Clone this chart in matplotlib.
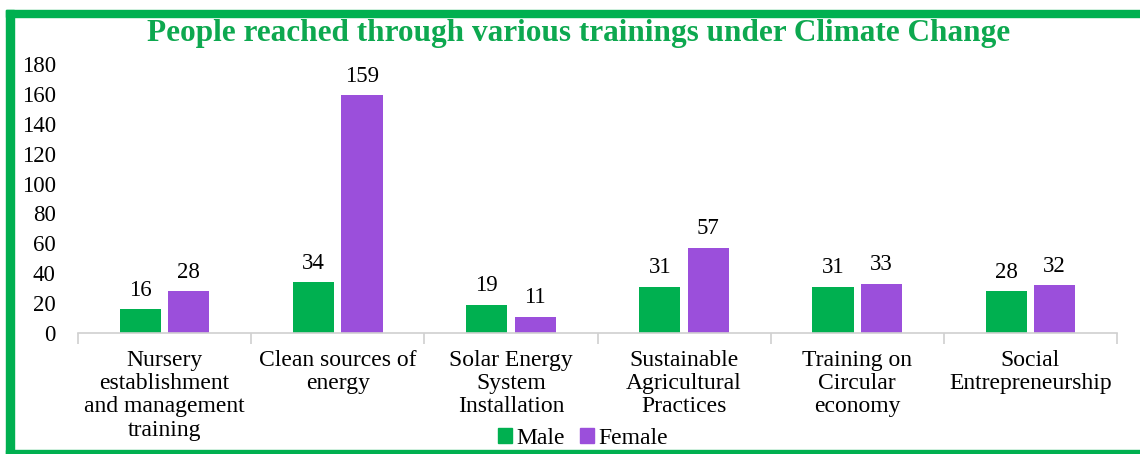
import matplotlib
matplotlib.use("Agg")
import matplotlib.pyplot as plt
import numpy as np
from matplotlib.patches import Rectangle, Patch

categories = ["Nursery\nestablishment\nand management\ntraining",
              "Clean sources of\nenergy",
              "Solar Energy\nSystem\nInstallation",
              "Sustainable\nAgricultural\nPractices",
              "Training on\nCircular\neconomy",
              "Social\nEntrepreneurship"]
male = [16, 34, 19, 31, 31, 28]
female = [28, 159, 11, 57, 33, 32]
yticks = [0, 20, 40, 60, 80, 100, 120, 140, 160, 180]

GREEN = "#00B050"
PURPLE = "#9B4FDB"
TITLE_GREEN = "#0DA84F"

plt.rcParams['font.family'] = ['Liberation Serif', 'DejaVu Serif']

fig = plt.figure(figsize=(11.4, 4.54), dpi=100)
ax = fig.add_axes([78/1140, 1-333/454, (1117-78)/1140, (333-64)/454])

x = np.arange(len(categories))
w = 0.237
off = 0.14
b1 = ax.bar(x - off, male, w, color=GREEN, label="Male")
b2 = ax.bar(x + off, female, w, color=PURPLE, label="Female")
for bars, vals in ((b1, male), (b2, female)):
    for r, v in zip(bars, vals):
        ax.annotate(str(v), (r.get_x() + r.get_width()/2, v), xytext=(0, 6),
                    textcoords="offset points", ha="center", va="bottom", fontsize=16.5)

ax.set_xlim(-0.5, len(categories) - 0.5)
ax.set_ylim(0, 180)
ax.set_yticks(yticks)
ax.set_yticklabels([str(t) for t in yticks], fontsize=16.5)
ax.tick_params(axis='y', length=0, pad=16)
ax.set_xticks(x)
ax.set_xticklabels(categories, fontsize=17, linespacing=1.15)
ax.tick_params(axis='x', length=0, pad=12)
ax.set_xticks(np.arange(-0.5, len(categories), 1.0), minor=True)
ax.tick_params(axis='x', which='minor', length=8, color="#D0D0D0", width=1.2)
for s in ("top", "right", "left"):
    ax.spines[s].set_visible(False)
ax.spines["bottom"].set_color("#D0D0D0")
ax.spines["bottom"].set_linewidth(1.2)

fig.text(579/1140, 1-33/454, "People reached through various trainings under Climate Change",
         ha="center", va="center", fontsize=22.5, fontweight="bold", color=TITLE_GREEN)

fig.legend(handles=[Patch(color=GREEN, label="Male"), Patch(color=PURPLE, label="Female")],
           loc="center", bbox_to_anchor=(583/1140, 1-438/454), ncol=2, frameon=False,
           fontsize=17, handlelength=0.6, handleheight=0.6, handletextpad=0.2,
           columnspacing=0.6)

# green frame
H = 454.0; W = 1140.0
fig.patches.append(Rectangle((6/W, 0), 8/W, 1 - 10/H, transform=fig.transFigure, color=GREEN, zorder=0))
fig.patches.append(Rectangle((6/W, 1 - 17/H), 1 - 6/W, 7/H, transform=fig.transFigure, color=GREEN, zorder=0))
fig.patches.append(Rectangle((6/W, 0), 1 - 6/W, 4/H, transform=fig.transFigure, color=GREEN, zorder=0))

fig.savefig("out.png", dpi=100)
